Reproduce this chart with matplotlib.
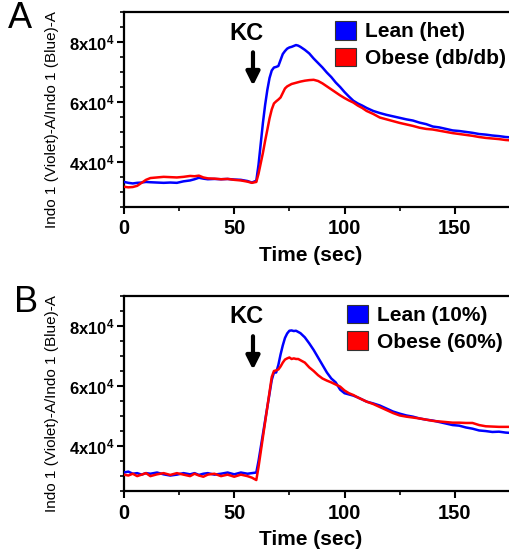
import matplotlib
matplotlib.use("Agg")
import matplotlib.pyplot as plt
import numpy as np
from matplotlib.patches import Patch
from matplotlib.ticker import MultipleLocator

plt.rcParams.update({
    "font.family": "sans-serif", "font.sans-serif": ["Liberation Sans", "DejaVu Sans"],
    "mathtext.fontset": "custom", "mathtext.bf": "Liberation Sans:bold",
    "mathtext.rm": "Liberation Sans:bold", "mathtext.default": "bf",
})

# time points (sec), shared by both panels
TIME = [0, 2, 4, 6, 8, 10, 12, 15, 18, 21, 24, 27, 30, 32, 34, 36, 38, 41, 44, 47, 50, 53, 56, 58, 60,
        61, 62, 63, 64, 65, 66, 67, 68, 69, 70, 71, 72, 73, 74, 75, 76, 77, 78, 79, 80, 82, 84, 86, 88,
        90, 92, 94, 96, 98, 100, 102, 104, 106, 108, 110, 113, 116, 119, 122, 125, 128, 131, 134, 137,
        140, 143, 146, 149, 152, 155, 158, 161, 164, 167, 170, 173, 175]

# values in units of 1e4
A_LEAN = [3.33, 3.30, 3.28, 3.30, 3.31, 3.33, 3.32, 3.31, 3.30, 3.31, 3.30, 3.35, 3.38, 3.42, 3.47, 3.44,
          3.42, 3.43, 3.42, 3.43, 3.41, 3.40, 3.36, 3.31, 3.37,
          3.90, 4.60, 5.30, 5.90, 6.40, 6.80, 7.05, 7.15, 7.17, 7.20, 7.40, 7.60, 7.70, 7.78, 7.82, 7.84,
          7.87, 7.90, 7.88, 7.84, 7.74, 7.62, 7.45, 7.30, 7.15, 6.98, 6.83, 6.65, 6.50, 6.33, 6.18, 6.04,
          5.95, 5.88, 5.80, 5.70, 5.63, 5.57, 5.52, 5.47, 5.42, 5.38, 5.31, 5.26, 5.18, 5.15, 5.10, 5.05,
          5.03, 5.00, 4.97, 4.93, 4.91, 4.88, 4.86, 4.83, 4.82]
A_OBESE = [3.17, 3.15, 3.16, 3.20, 3.30, 3.40, 3.46, 3.48, 3.50, 3.49, 3.48, 3.50, 3.53, 3.52, 3.54, 3.48,
           3.45, 3.44, 3.42, 3.43, 3.40, 3.38, 3.34, 3.30, 3.33,
           3.60, 3.95, 4.30, 4.70, 5.07, 5.45, 5.75, 5.95, 6.02, 6.08, 6.15, 6.30, 6.45, 6.52, 6.56, 6.60,
           6.62, 6.64, 6.66, 6.68, 6.71, 6.73, 6.74, 6.70, 6.62, 6.52, 6.42, 6.32, 6.22, 6.13, 6.05, 5.98,
           5.88, 5.80, 5.70, 5.60, 5.48, 5.42, 5.36, 5.30, 5.25, 5.20, 5.14, 5.10, 5.08, 5.04, 5.00, 4.96,
           4.93, 4.90, 4.87, 4.83, 4.80, 4.78, 4.76, 4.73, 4.72]
B_LEAN = [3.12, 3.15, 3.08, 3.10, 3.05, 3.10, 3.08, 3.12, 3.06, 3.02, 3.05, 3.10, 3.06, 3.10, 3.04, 3.08,
          3.10, 3.05, 3.08, 3.12, 3.06, 3.12, 3.08, 3.10, 3.12,
          3.50, 3.95, 4.40, 4.85, 5.30, 5.75, 6.20, 6.45, 6.45, 6.70, 7.05, 7.35, 7.60, 7.75, 7.84, 7.85,
          7.83, 7.84, 7.80, 7.76, 7.62, 7.42, 7.20, 6.95, 6.70, 6.45, 6.25, 6.12, 5.88, 5.76, 5.72, 5.68,
          5.62, 5.55, 5.48, 5.42, 5.35, 5.25, 5.15, 5.08, 5.02, 4.98, 4.92, 4.88, 4.85, 4.80, 4.75, 4.70,
          4.68, 4.62, 4.58, 4.52, 4.50, 4.47, 4.48, 4.45, 4.44]
B_OBESE = [3.05, 3.02, 3.08, 3.00, 3.05, 3.10, 3.00, 3.06, 3.10, 3.04, 3.10, 3.05, 3.00, 3.08, 3.02, 2.98,
           3.05, 3.08, 3.00, 3.05, 2.98, 3.05, 3.00, 2.95, 2.87,
           3.30, 3.80, 4.30, 4.80, 5.30, 5.80, 6.30, 6.50, 6.52, 6.55, 6.65, 6.78, 6.88, 6.92, 6.95, 6.90,
           6.92, 6.90, 6.90, 6.86, 6.78, 6.62, 6.50, 6.36, 6.25, 6.18, 6.12, 6.05, 5.98, 5.85, 5.76, 5.70,
           5.62, 5.55, 5.48, 5.40, 5.30, 5.20, 5.10, 5.02, 4.98, 4.95, 4.92, 4.88, 4.84, 4.82, 4.80, 4.78,
           4.78, 4.77, 4.77, 4.70, 4.66, 4.65, 4.64, 4.64, 4.64]

LEGENDS = {"A": ["Lean (het)", "Obese (db/db)"], "B": ["Lean (10%)", "Obese (60%)"]}
YTICKS = [4e4, 6e4, 8e4]
YTICKLABELS = [r"4x10$^{4}$", r"6x10$^{4}$", r"8x10$^{4}$"]
C_LEAN, C_OBESE = "#0000FF", "#FF0000"

fig = plt.figure(figsize=(5.1, 5.5), dpi=100)
axA = fig.add_axes([0.243, 0.624, 0.757, 0.354])
axB = fig.add_axes([0.243, 0.107, 0.757, 0.355])

t = np.array(TIME)
for ax, key, lean, obese in [(axA, "A", A_LEAN, A_OBESE), (axB, "B", B_LEAN, B_OBESE)]:
    ax.plot(t, np.array(lean) * 1e4, color=C_LEAN, lw=1.8, zorder=3)
    ax.plot(t, np.array(obese) * 1e4, color=C_OBESE, lw=1.8, zorder=4)
    ax.set_xlim(0, 175)
    ax.set_ylim(2.5e4, 9e4)
    ax.set_xticks([0, 50, 100, 150])
    ax.set_xticklabels(["0", "50", "100", "150"], fontsize=14.5, fontweight="bold")
    ax.xaxis.set_minor_locator(MultipleLocator(25))
    ax.set_yticks(YTICKS)
    ax.set_yticklabels(YTICKLABELS, fontsize=12, fontweight="bold")
    ax.yaxis.set_minor_locator(MultipleLocator(5000))
    ax.tick_params(which="major", direction="out", length=5, width=1.5, pad=2)
    ax.tick_params(which="minor", direction="out", length=3, width=1.2)
    ax.tick_params(axis="x", which="major", pad=4)
    for s in ["left", "bottom", "top"]:
        ax.spines[s].set_linewidth(1.6)
    ax.spines["right"].set_visible(False)
    ax.set_xlabel("Time (sec)", fontsize=15, fontweight="bold")
    ax.xaxis.set_label_coords(0.484, -0.2)
    ax.set_ylabel("Indo 1 (Violet)-A/Indo 1 (Blue)-A", fontsize=11)
    ax.yaxis.set_label_coords(-0.168, 0.45)
    ax.text(-0.30 if key == "A" else -0.285, 0.965, key, transform=ax.transAxes,
            fontsize=26, ha="left", va="center")
    ax.text(55.5, 8.3e4, "KC", fontsize=17, fontweight="bold", ha="center", va="center")
    ax.annotate("", xy=(58.5, 6.45e4), xytext=(58.5, 7.75e4),
                arrowprops=dict(arrowstyle="-|>,head_width=0.4,head_length=0.8",
                                color="black", lw=3))
    handles = [Patch(facecolor=C_LEAN, edgecolor="#333333", lw=0.8, label=LEGENDS[key][0]),
               Patch(facecolor=C_OBESE, edgecolor="#333333", lw=0.8, label=LEGENDS[key][1])]
    ax.legend(handles=handles, loc="upper left",
              bbox_to_anchor=(0.547 if key == "A" else 0.577, 0.955), frameon=False,
              prop={"size": 15, "weight": "bold"}, borderpad=0, borderaxespad=0,
              handlelength=1.0, handleheight=1.0, handletextpad=0.45, labelspacing=0.3)

fig.savefig("out.png", dpi=100)
